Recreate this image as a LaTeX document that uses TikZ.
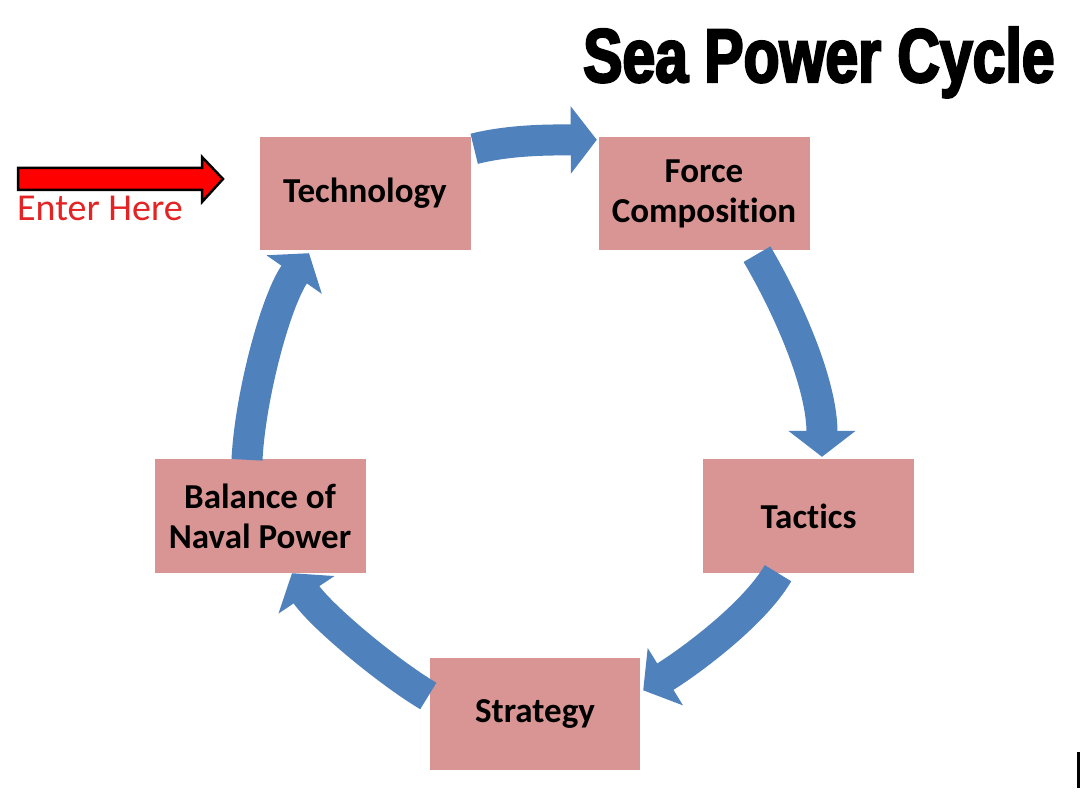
\documentclass[tikz,border=0pt]{standalone}
\usepackage{fontspec}
\setmainfont{Carlito}[Ligatures=NoCommon]
\newfontfamily\titlefont{Liberation Sans Bold}[FakeStretch=0.775,FakeBold=3]
\usetikzlibrary{arrows.meta,calc}
\definecolor{boxpink}{RGB}{217,149,148}
\definecolor{cycleblue}{RGB}{79,129,189}
\definecolor{enterred}{RGB}{228,36,36}
\begin{document}
\begin{tikzpicture}[x=1pt,y=-1pt,
  stage/.style={fill=boxpink, minimum width=211pt, minimum height=113pt, inner sep=0pt,
    font=\bfseries\fontsize{35}{40}\selectfont, align=center, text=black},
  cyc/.style={draw=cycleblue, line width=31pt, -{Triangle[length=26pt,width=66pt]}},
  entry/.style={fill=red, draw=black, line width=2.5pt, line join=miter}
]
\useasboundingbox (0,0) rectangle (1080,794);
\fill[white] (0,0) rectangle (1080,794);

% title
\node[anchor=base west, inner sep=0pt] (title) at (583,82)
  {\titlefont\fontsize{76}{80}\selectfont Sea Power Cycle};

% stages
\node[stage] (tech)     at (365,193.5) {Technology};
\node[stage] (force)    at (704,193.5) {Force\\Composition};
\node[stage] (tactics)  at (808.5,516) {Tactics};
\node[stage, minimum width=210pt, minimum height=112pt] (strategy) at (535,714) {Strategy};
\node[stage] (balance)  at (260,516)   {Balance of\\Naval Power};

% cycle arrows
\draw[cyc] ($(tech.north east)+(3.5,12)$) .. controls (513,139) and (557,140) .. ($(force.north west)+(-1.5,3)$);
\draw[cyc] ($(force.south)+(53,4)$) .. controls (792,314) and (822,387) .. ($(tactics.north)+(13.5,-2.5)$);
\draw[cyc] ($(tactics.south)+(-30.5,0.5)$) .. controls (753,616) and (686,664) .. ($(strategy.north east)+(3,32.5)$);
\draw[cyc] ($(strategy.west)+(-1.5,-18)$) .. controls (385,670) and (320,615) .. ($(balance.south)+(32,0.5)$);
\draw[cyc] ($(balance.north)+(-13,0.5)$) .. controls (250,398) and (275,302) .. ($(tech.south)+(-56,3)$);

% entry arrow
\coordinate (enter) at (18,179);
\draw[entry] (enter) ++(0,-11) -- ++(184,0) -- ++(0,-11) -- ++(21,22) -- ++(-21,23) -- ++(0,-12) -- ++(-184,0) -- cycle;
\node[anchor=base west, inner sep=0pt, text=enterred, font=\fontsize{38}{44}\selectfont] (enterlbl) at (17,221) {Enter Here};

% edge mark
\fill[black] (1077,752) rectangle (1080,788);
\end{tikzpicture}
\end{document}
